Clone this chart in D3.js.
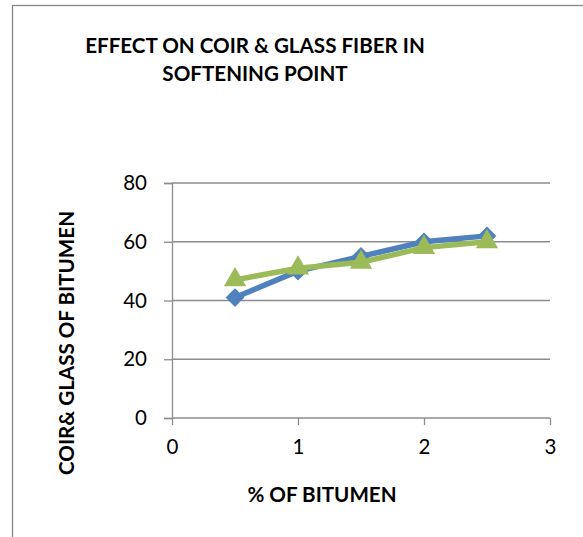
<!DOCTYPE html>
<html><head><meta charset="utf-8">
<script src="https://cdn.jsdelivr.net/npm/d3@7"></script>
<style>body{margin:0;background:#fff}svg{display:block}text{font-family:Lato,"Open Sans",sans-serif}</style>
</head><body><svg id="c" width="583" height="537"></svg>
<script>
const xValues = [0.5, 1, 1.5, 2, 2.5];
const coirValues = [41, 50, 55, 60, 62];
const glassValues = [47, 51, 53, 58, 60];
const xTicks = [0, 1, 2, 3];
const yTicks = [0, 20, 40, 60, 80];
const titleLines = ["EFFECT ON COIR & GLASS FIBER IN", "SOFTENING POINT"];
const xTitle = "% OF BITUMEN";
const yTitle = "COIR& GLASS OF BITUMEN";

const svg = d3.select("#c");
svg.append("rect").attr("x",12.5).attr("y",5.5).attr("width",600).attr("height",600)
  .attr("fill","#fff").attr("stroke","#868686").attr("stroke-width",1.3);

const x = d3.scaleLinear().domain([0,3]).range([172,550]);
const y = d3.scaleLinear().domain([0,80]).range([418,183]);
const grid = "#8c8c8c";

svg.append("g").selectAll("line").data(yTicks.filter(d=>d>0)).join("line")
  .attr("x1",x(0)).attr("x2",x(3)).attr("y1",d=>y(d)).attr("y2",d=>y(d))
  .attr("stroke",grid).attr("stroke-width",1.3);

const xa = svg.append("g").attr("transform",`translate(0,${y(0)})`)
  .call(d3.axisBottom(x).tickValues(xTicks).tickFormat(d3.format("d")).tickSize(7).tickPadding(14));
const ya = svg.append("g").attr("transform",`translate(${x(0)},0)`)
  .call(d3.axisLeft(y).tickValues(yTicks).tickSize(8).tickPadding(17));
[xa,ya].forEach(a=>{
  a.select(".domain").attr("stroke",grid).attr("stroke-width",1.3);
  a.selectAll(".tick line").attr("stroke",grid).attr("stroke-width",1.3);
  a.selectAll("text").attr("font-family","Lato, sans-serif").attr("font-size",20.5).attr("fill","#000");
});
xa.selectAll(".domain").attr("d",`M${x(0)},0H${x(3)}`);

const line = d3.line().x(d=>x(d[0])).y(d=>y(d[1]));
const coir = xValues.map((v,i)=>[v,coirValues[i]]);
const glass = xValues.map((v,i)=>[v,glassValues[i]]);
svg.append("path").datum(coir).attr("d",line).attr("fill","none").attr("stroke","#4F81BD").attr("stroke-width",5.5).attr("stroke-linejoin","round");
svg.append("g").selectAll("path").data(coir).join("path")
  .attr("d",d3.symbol(d3.symbolSquare,175)).attr("transform",d=>`translate(${x(d[0])},${y(d[1])}) rotate(45)`)
  .attr("fill","#4F81BD");
svg.append("path").datum(glass).attr("d",line).attr("fill","none").attr("stroke","#9BBB59").attr("stroke-width",5.5).attr("stroke-linejoin","round");
svg.append("g").selectAll("path").data(glass).join("path")
  .attr("d",d3.symbol(d3.symbolTriangle,215)).attr("transform",d=>`translate(${x(d[0])},${y(d[1])})`)
  .attr("fill","#9BBB59");

svg.append("g").selectAll("text").data(titleLines).join("text")
  .attr("x",255).attr("y",(d,i)=>46+i*28).attr("dy","0.35em").attr("text-anchor","middle")
  .attr("font-weight","bold").attr("font-size",20.6).text(d=>d);
svg.append("text").attr("x",322).attr("y",495).attr("dy","0.35em").attr("text-anchor","middle")
  .attr("font-weight","bold").attr("font-size",20.6).text(xTitle);
svg.append("text").attr("transform","translate(67,343) rotate(-90)").attr("dy","0.35em").attr("text-anchor","middle")
  .attr("font-weight","bold").attr("font-size",20.6).text(yTitle);
</script></body></html>
